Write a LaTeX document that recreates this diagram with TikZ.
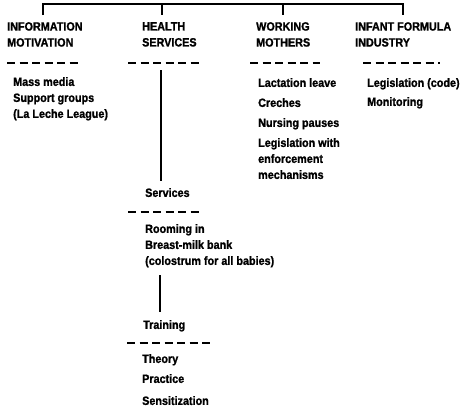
\documentclass[tikz,border=0pt]{standalone}
\usepackage{fontspec}
\newfontfamily\chartfont{Liberation Sans Bold}[FakeStretch=0.9, FakeBold=1.2]
\begin{document}
\begin{tikzpicture}[x=1pt, y=-1pt,
    txt/.style={anchor=north west, inner sep=0pt, align=left,
        font=\chartfont\fontsize{12}{16}\selectfont},
    sepline/.style={line width=1.7pt, dash pattern=on 8pt off 4.5pt},
    branch/.style={line width=1.4pt}]
    \useasboundingbox (0,0) rectangle (460,410);

    % Headings under the top bar
    \node[txt] (info)    at (7,22)   {INFORMATION\\MOTIVATION};
    \node[txt] (health)  at (142,22) {HEALTH\\SERVICES};
    \node[txt] (working) at (256,22) {WORKING\\MOTHERS};
    \node[txt] (infant)  at (355,22) {INFANT FORMULA\\INDUSTRY};

    % Top bar with its four ticks
    \coordinate (t1) at (43,4);
    \coordinate (t2) at (162,4);
    \coordinate (t3) at (283,4);
    \coordinate (t4) at (403,4);
    \draw[branch, shorten <=7pt, shorten >=7pt]
        (t1 |- info.north) -- (t1) -- (t4) -- (t4 |- infant.north);
    \draw[branch, shorten >=7pt] (t2) -- (t2 |- health.north);
    \draw[branch, shorten >=7pt] (t3) -- (t3 |- working.north);

    % Dashed separators under the headings
    \draw[sepline] (7,63) -- (82,63);
    \draw[sepline] (128,63) -- (203,63);
    \draw[sepline] (250,63) -- (320,63);
    \draw[sepline] (363,63) -- (440,63);

    % Lists under the headings
    \node[txt] (infolist) at (13,77) {Mass media\\Support groups\\(La Leche League)};
    \node[txt] (worklist) at (258,78) {Lactation leave\\[4pt]Creches\\[4pt]Nursing pauses\\[4pt]Legislation with\\enforcement\\mechanisms};
    \node[txt] (indlist)  at (367,78) {Legislation (code)\\[3pt]Monitoring};

    % Health services branch
    \node[txt] (services) at (145,188) {Services};
    \draw[sepline] (128,212) -- (202,212);
    \node[txt] (servlist) at (145,224) {Rooming in\\Breast-milk bank\\(colostrum for all babies)};

    \coordinate (hs) at (161,70);
    \draw[line width=1.8pt, shorten >=7pt] (hs) -- (hs |- services.north);

    \node[txt] (training) at (143,320) {Training};
    \draw[sepline] (127,343) -- (212,343);
    \node[txt] (trainlist) at (142,354) {Theory\\[4pt]Practice\\[6pt]Sensitization};

    \coordinate (tr) at (160,275);
    \draw[line width=1.8pt, shorten >=8pt] (tr) -- (tr |- training.north);
\end{tikzpicture}
\end{document}
